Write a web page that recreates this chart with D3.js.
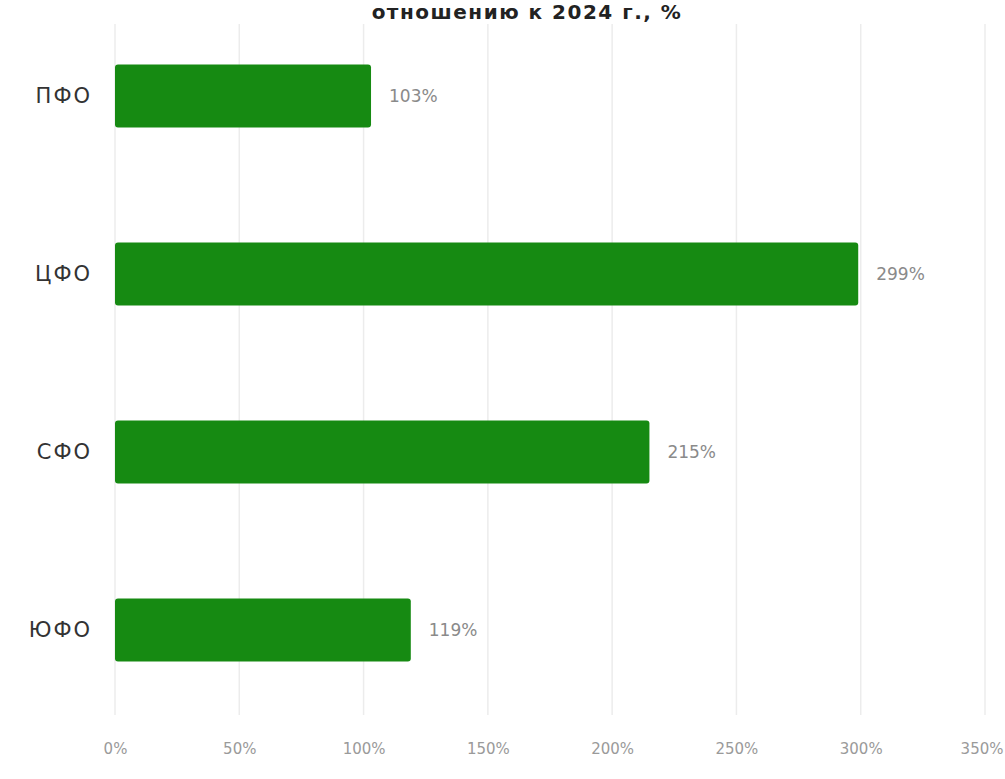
<!DOCTYPE html>
<html>
<head>
<meta charset="utf-8">
<script src="https://cdn.jsdelivr.net/npm/d3@7"></script>
<style>
  html, body { margin: 0; padding: 0; background: #ffffff; }
  svg { display: block; }
</style>
</head>
<body>
<svg id="chart" width="1005" height="779"></svg>
<script>
const categories = ["ПФО", "ЦФО", "СФО", "ЮФО"];
const values = [103, 299, 215, 119];
const tickValues = [0, 50, 100, 150, 200, 250, 300, 350];
const titleText = "отношению к 2024 г., %";

const svg = d3.select("#chart");

const x = d3.scaleLinear().domain([0, 350]).range([115, 985]);
const y = d3.scaleBand().domain(categories).range([29, 697]).paddingInner(0.646).paddingOuter(0.2);

// gridlines
svg.append("g")
  .selectAll("line")
  .data(tickValues)
  .join("line")
  .attr("x1", d => x(d)).attr("x2", d => x(d))
  .attr("y1", 24).attr("y2", 715)
  .attr("stroke", "#ececec")
  .attr("stroke-width", 1.5);

// bottom axis labels
const xAxis = d3.axisBottom(x).tickValues(tickValues).tickFormat(d => d + "%").tickSize(0).tickPadding(0);
const gx = svg.append("g").attr("transform", "translate(0,743)").call(xAxis);
gx.select(".domain").remove();
gx.selectAll("text")
  .attr("font-family", "DejaVu Sans, sans-serif")
  .attr("font-size", 15)
  .attr("fill", "#9a9a9a")
  .attr("text-anchor", (d, i) => i === tickValues.length - 1 ? "end" : "middle")
  .attr("dx", (d, i) => i === tickValues.length - 1 ? 18 : 0);

// bars
svg.append("g")
  .selectAll("rect")
  .data(values)
  .join("rect")
  .attr("x", x(0))
  .attr("y", (d, i) => y(categories[i]))
  .attr("width", d => x(d) - x(0))
  .attr("height", y.bandwidth())
  .attr("rx", 3)
  .attr("fill", "#168a12");

// value labels
svg.append("g")
  .selectAll("text")
  .data(values)
  .join("text")
  .attr("x", d => x(d) + 18)
  .attr("y", (d, i) => y(categories[i]) + y.bandwidth() / 2)
  .attr("dy", "0.35em")
  .attr("font-family", "DejaVu Sans, sans-serif")
  .attr("font-size", 17)
  .attr("fill", "#8a8a8a")
  .text(d => d + "%");

// category axis
const yAxis = d3.axisLeft(y).tickSize(0).tickPadding(0);
const gy = svg.append("g").attr("transform", "translate(92,0)").call(yAxis);
gy.select(".domain").remove();
gy.selectAll("text")
  .attr("font-family", "DejaVu Sans, sans-serif")
  .attr("font-size", 21)
  .attr("letter-spacing", 2)
  .attr("fill", "#333333");

// title (visible second line)
svg.append("text")
  .attr("x", 527)
  .attr("y", 19)
  .attr("text-anchor", "middle")
  .attr("font-family", "DejaVu Sans, sans-serif")
  .attr("font-weight", "bold")
  .attr("font-size", 20)
  .attr("letter-spacing", 1.5)
  .attr("fill", "#222222")
  .text(titleText);
</script>
</body>
</html>
